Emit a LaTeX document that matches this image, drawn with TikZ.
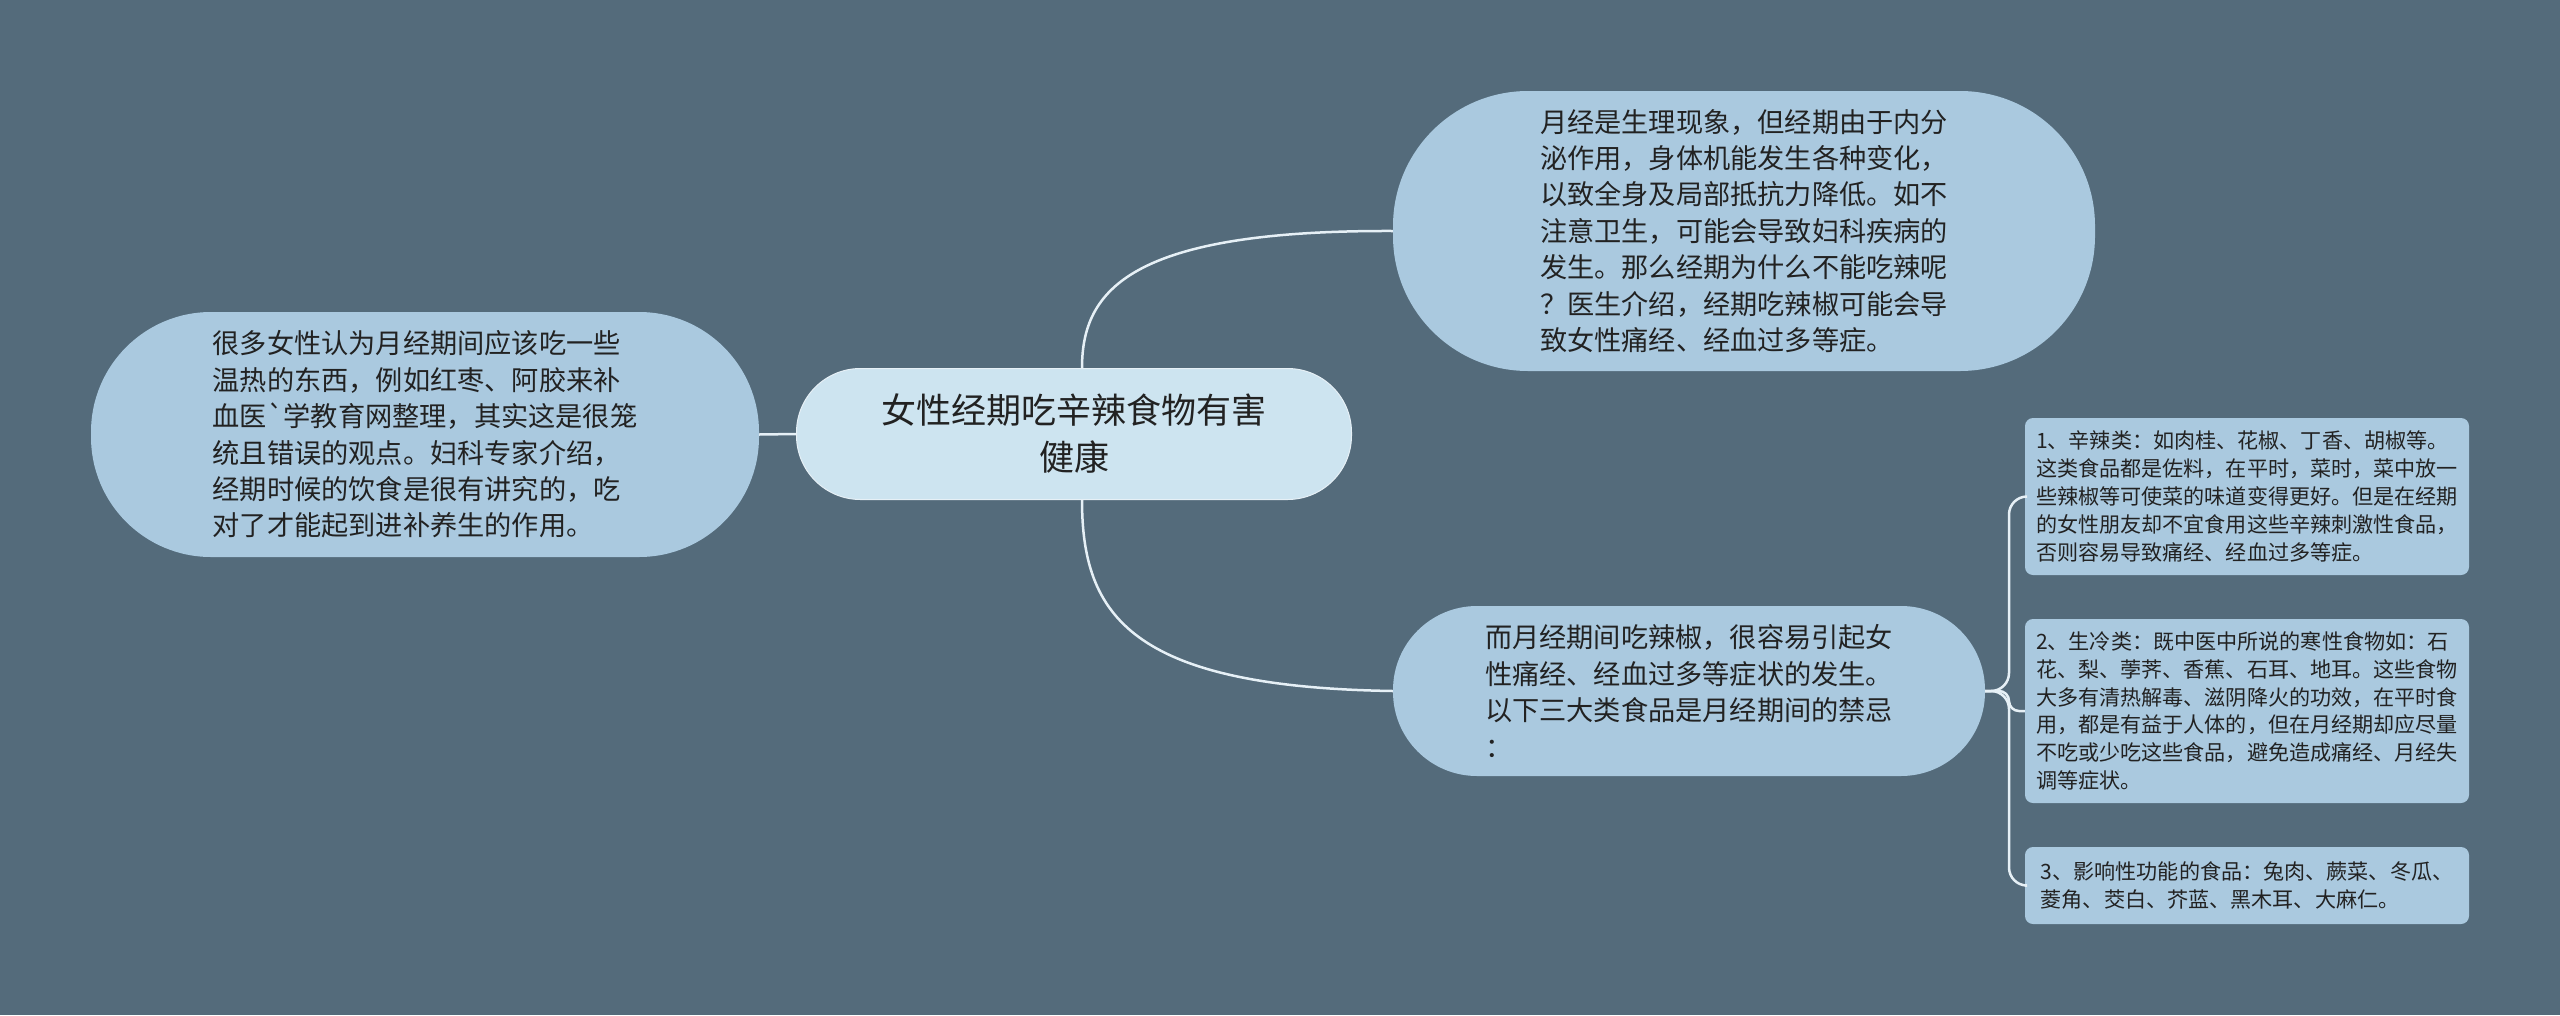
\documentclass[tikz,border=0pt]{standalone}
\usepackage{fontspec}
\setmainfont{Noto Sans CJK SC}
\newfontfamily\gravefont{Noto Sans CJK SC}
\definecolor{bg}{HTML}{546B7B}
\definecolor{nodefill}{HTML}{AAC9DF}
\definecolor{rootfill}{HTML}{CDE4F0}
\definecolor{txt}{HTML}{222222}
\definecolor{linec}{HTML}{E6F0F6}
\tikzset{
  bubble/.style={fill=nodefill, text=txt, align=left, inner sep=0pt},
  leafbox/.style={fill=nodefill, text=txt, align=left, inner sep=0pt, rounded corners=8pt,
    minimum width=444pt, font=\fontsize{21.1}{27.8}\selectfont},
  conn/.style={draw=linec, line width=2.5pt},
}
\begin{document}
\begin{tikzpicture}[x=1pt,y=-1pt]
\fill[bg] (0,0) rectangle (2560,1015);
\useasboundingbox (0,0) rectangle (2560,1015);

% root
\node[bubble, fill=rootfill, align=center, minimum width=555pt, minimum height=131pt,
  rounded corners=64pt, draw=linec, line width=1pt, font=\fontsize{35}{47}\selectfont]
  (root) at (1074,434) {女性经期吃辛辣食物有害\\健康};

% top right
\node[bubble, minimum width=702pt, minimum height=280pt, rounded corners=135pt,
  font=\fontsize{27.2}{36.4}\selectfont] (tr) at (1744,231)
  {月经是生理现象，但经期由于内分\\泌作用，身体机能发生各种变化，\\以致全身及局部抵抗力降低。如不\\注意卫生，可能会导致妇科疾病的\\发生。那么经期为什么不能吃辣呢\\？医生介绍，经期吃辣椒可能会导\\致女性痛经、经血过多等症。};

% left
\node[bubble, minimum width=668pt, minimum height=245pt, rounded corners=120pt,
  font=\fontsize{27.2}{36.4}\selectfont] (lf) at (425,434.5)
  {很多女性认为月经期间应该吃一些\\温热的东西，例如红枣、阿胶来补\\血医{\gravefont\symbol{96}}学教育网整理，其实这是很笼\\统且错误的观点。妇科专家介绍，\\经期时候的饮食是很有讲究的，吃\\对了才能起到进补养生的作用。};

% bottom middle
\node[bubble, minimum width=592pt, minimum height=170pt, rounded corners=84pt,
  font=\fontsize{27.2}{36.4}\selectfont] (bm) at (1689,691)
  {而月经期间吃辣椒，很容易引起女\\性痛经、经血过多等症状的发生。\\以下三大类食品是月经期间的禁忌\\：};

% leaf boxes
\node[leafbox, minimum height=157pt] (b1) at (2247,496.5)
  {1、辛辣类：如肉桂、花椒、丁香、胡椒等。\\这类食品都是佐料，在平时，菜时，菜中放一\\些辣椒等可使菜的味道变得更好。但是在经期\\的女性朋友却不宜食用这些辛辣刺激性食品，\\否则容易导致痛经、经血过多等症。};
\node[leafbox, minimum height=184pt] (b2) at (2247,711)
  {2、生冷类：既中医中所说的寒性食物如：石\\花、梨、荸荠、香蕉、石耳、地耳。这些食物\\大多有清热解毒、滋阴降火的功效，在平时食\\用，都是有益于人体的，但在月经期却应尽量\\不吃或少吃这些食品，避免造成痛经、月经失\\调等症状。};
\node[leafbox, minimum height=77pt] (b3) at (2247,885.5)
  {3、影响性功能的食品：兔肉、蕨菜、冬瓜、\\菱角、茭白、芥蓝、黑木耳、大麻仁。};

% connectors
\coordinate (spine) at (2009,0);
\draw[conn] ([xshift=8pt]root.north) .. controls ([xshift=8pt]root.north |- 0,290) and (1130,230) .. (tr.west);
\draw[conn] ([xshift=8pt]root.south) .. controls ([xshift=8pt]root.south |- 0,615) and (1130,687) .. (bm.west);
\draw[conn] (root.west) -- (lf.east);
\draw[conn, rounded corners=18pt] (bm.east) -- (bm.east -| spine) |- (b1.west);
\draw[conn, rounded corners=10pt] (bm.east) -- (bm.east -| spine) |- (b2.west);
\draw[conn, rounded corners=18pt] (bm.east) -- (bm.east -| spine) |- (b3.west);
\end{tikzpicture}
\end{document}
